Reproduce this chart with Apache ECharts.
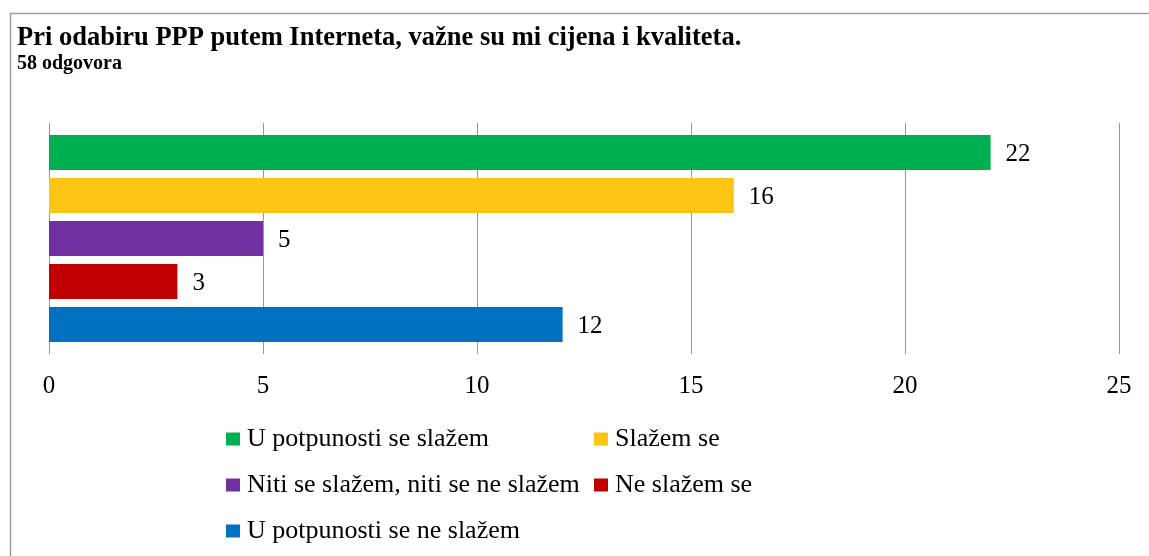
<!DOCTYPE html>
<html>
<head>
<meta charset="utf-8">
<script src="https://cdn.jsdelivr.net/npm/echarts@6/dist/echarts.min.js"></script>
<style>
  html, body { margin: 0; padding: 0; background: #fff; }
  #chart { width: 1149px; height: 556px; }
</style>
</head>
<body>
<div id="chart"></div>
<script>
// answers and counts, top bar first
const answers = ['U potpunosti se slažem', 'Slažem se', 'Niti se slažem, niti se ne slažem', 'Ne slažem se', 'U potpunosti se ne slažem'];
const counts = [22, 16, 5, 3, 12];
const colors = ['#00AF50', '#FDC514', '#7030A0', '#C00000', '#0070C0'];
const ticks = [0, 5, 10, 15, 20, 25];

const serif = '"Liberation Serif", "Times New Roman", serif';

const chart = echarts.init(document.getElementById('chart'));

const series = answers.map((name, i) => ({
  name: name,
  type: 'bar',
  data: [counts[i]],
  barWidth: 35,
  barGap: '23%',
  itemStyle: { color: colors[i] },
  label: {
    show: true,
    position: 'right',
    distance: 15,
    offset: [0, 2],
    fontFamily: serif,
    fontSize: 25,
    color: '#000'
  }
}));

const legendText = { fontFamily: serif, fontSize: 26, color: '#000', padding: [0, 0, 0, 2] };

const option = {
  animation: false,
  title: {
    text: 'Pri odabiru PPP putem Interneta, važne su mi cijena i kvaliteta.',
    subtext: '58 odgovora',
    left: 12,
    top: 20,
    itemGap: 2,
    textStyle: { fontFamily: serif, fontSize: 26.5, fontWeight: 'bold', color: '#000' },
    subtextStyle: { fontFamily: serif, fontSize: 20, fontWeight: 'bold', color: '#000' }
  },
  graphic: [{
    type: 'rect',
    shape: { x: 10.5, y: 13.5, width: 1200, height: 600 },
    style: { fill: 'none', stroke: '#a0a0a0', lineWidth: 1.5 }
  }],
  legend: [
    {
      orient: 'vertical',
      left: 221,
      top: 421,
      itemGap: 20,
      itemWidth: 14,
      itemHeight: 13,
      icon: 'rect',
      textStyle: legendText,
      data: [answers[0], answers[2], answers[4]]
    },
    {
      orient: 'vertical',
      left: 589,
      top: 421,
      itemGap: 20,
      itemWidth: 14,
      itemHeight: 13,
      icon: 'rect',
      textStyle: legendText,
      data: [answers[1], answers[3]]
    }
  ],
  grid: { left: 49, right: 30, top: 123, height: 231 },
  xAxis: {
    type: 'value',
    min: ticks[0],
    max: ticks[ticks.length - 1],
    interval: 5,
    axisLine: { show: false },
    axisTick: { show: false },
    axisLabel: { fontFamily: serif, fontSize: 25, color: '#000', margin: 20 },
    splitLine: { lineStyle: { color: '#999', width: 1 } }
  },
  yAxis: {
    type: 'category',
    data: [''],
    inverse: true,
    axisLine: { show: false },
    axisTick: { show: false },
    axisLabel: { show: false }
  },
  series: series
};

chart.setOption(option);
</script>
</body>
</html>
